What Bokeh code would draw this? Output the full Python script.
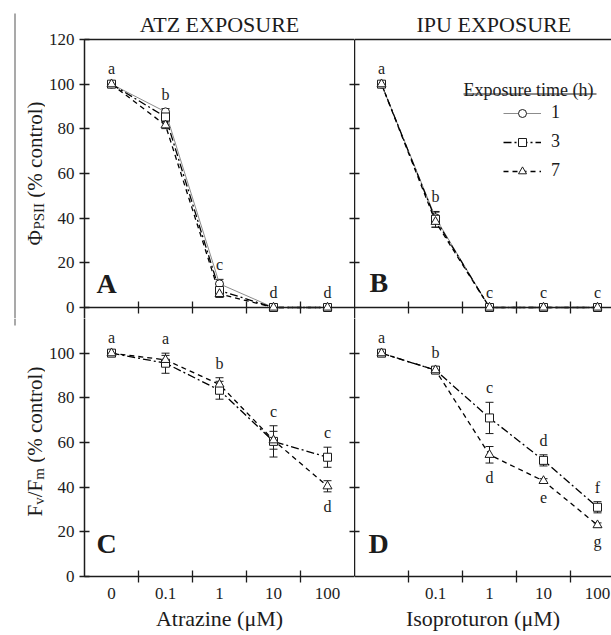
import numpy as np
from bokeh.plotting import figure
from bokeh.models import (ColumnDataSource, Whisker, TeeHead, LabelSet, Label, Legend,
                          LegendItem, FixedTicker, LinearAxis, Range1d, BoxAnnotation)
from bokeh.layouts import row, column
from bokeh.embed import file_html
from bokeh.resources import INLINE
from bokeh.core.properties import value

# ---------------- data ----------------
conc_labels_atz = ["0", "0.1", "1", "10", "100"]
conc_labels_ipu = ["", "0.1", "1", "10", "100"]
exposure_times = ["1", "3", "7"]

# Panel A: PhiPSII, atrazine
atz_phi_1h = [100, 87.6, 10.6, 0, 0]
atz_phi_3h = [100, 85.3, 7.6, 0, 0]
atz_phi_7h = [100, 81.6, 6.1, 0, 0]
atz_phi_1h_err = [0.5, 1.5, 2.0, 0.3, 0.3]
atz_phi_3h_err = [0.5, 2.0, 3.0, 0.3, 0.3]
atz_phi_7h_err = [0.5, 1.5, 1.5, 0.3, 0.3]

# Panel B: PhiPSII, isoproturon
ipu_phi_1h = [100, 40.2, 0, 0, 0]
ipu_phi_3h = [100, 39.5, 0, 0, 0]
ipu_phi_7h = [100, 38.4, 0, 0, 0]
ipu_phi_1h_err = [0.5, 2.5, 0.3, 0.3, 0.3]
ipu_phi_3h_err = [0.5, 3.5, 0.3, 0.3, 0.3]
ipu_phi_7h_err = [0.5, 2.5, 0.3, 0.3, 0.3]

# Panel C: Fv/Fm, atrazine
atz_fv_3h = [100, 95.5, 83.4, 60.5, 53.4]
atz_fv_7h = [100, 97.0, 86.0, 61.0, 40.4]
atz_fv_3h_err = [0.5, 4.5, 4.0, 7.0, 4.5]
atz_fv_7h_err = [0.5, 2.0, 3.0, 4.0, 2.5]

# Panel D: Fv/Fm, isoproturon
ipu_fv_3h = [100, 92.4, 71.0, 52.0, 31.0]
ipu_fv_7h = [100, 92.4, 54.5, 42.8, 23.0]
ipu_fv_3h_err = [0.5, 1.5, 7.0, 2.5, 2.5]
ipu_fv_7h_err = [0.5, 1.0, 3.7, 1.0, 1.0]

letters_a_top = ["a", "b", "c", "d", "d"]
letters_b_top = ["a", "b", "c", "c", "c"]
letters_c_top = ["a", "a", "b", "c", "c"]
letters_c_bottom = ["", "", "", "", "d"]
letters_d_top = ["a", "b", "c", "d", "f"]
letters_d_bottom = ["", "", "d", "e", "g"]

y_ticks_top = [0, 20, 40, 60, 80, 100, 120]
y_ticks_bottom = [0, 20, 40, 60, 80, 100]
y_ticks_inner = [20, 40, 60, 80, 100]

# ---------------- styles / layout ----------------
FONT = "Liberation Serif"
INK = "#1c1c1c"
STYLE = {
    "1": dict(color="#8c8c8c", dash="solid", width=1.0, marker="circle", size=8),
    "3": dict(color="black", dash="8 3 2 3", width=1.3, marker="square", size=8),
    "7": dict(color="black", dash="5 4", width=1.3, marker="triangle", size=9),
}
CAT_PX = 54
PX_UNIT = 268 / 120
LW = 45                    # width of the y-title column
FRAME_W_LEFT = 270
FRAME_W_RIGHT = 257
LEFT_BORDER = 38
TOP_BORDER = 39
FRAME_H_TOP = 279          # reaches a little below the zero line (page y 318)
FRAME_H_BOT = 258          # page y 318 .. 576
BOT_BORDER = 58
Y_START_TOP = 120 - FRAME_H_TOP / PX_UNIT
Y_END_BOT = FRAME_H_BOT / PX_UNIT
TOP_H = TOP_BORDER + FRAME_H_TOP      # page y of the row boundary (318)
BOT_H = FRAME_H_BOT + BOT_BORDER      # height of the lower row (316)
PAGE_H = TOP_H + BOT_H

# Times-like advance widths (em)
W = {"Φ": 0.76, "P": 0.556, "S": 0.556, "I": 0.333, " ": 0.25, "(": 0.333, "%": 0.833,
     "c": 0.444, "o": 0.5, "n": 0.5, "t": 0.278, "r": 0.333, "l": 0.278, ")": 0.333,
     "F": 0.556, "v": 0.5, "/": 0.278, "m": 0.778}


def tw(s, size):
    return sum(W.get(ch, 0.5) for ch in s) * size


def make_fig(frame_w, frame_h, y0, y1, left_border, top_border, bottom_border, title=None):
    p = figure(frame_width=frame_w, frame_height=frame_h,
               x_range=Range1d(-0.5, -0.5 + frame_w / CAT_PX), y_range=Range1d(y0, y1),
               x_axis_location=None, y_axis_location=None,
               toolbar_location=None, output_backend="svg",
               min_border_left=left_border, min_border_right=0,
               min_border_top=top_border, min_border_bottom=bottom_border,
               title=title)
    p.outline_line_color = None
    p.grid.visible = False
    p.background_fill_color = "white"
    p.border_fill_color = "white"
    if title:
        p.title.text_font = FONT
        p.title.text_font_size = "22px"
        p.title.text_font_style = "normal"
        p.title.text_color = INK
        p.title.standoff = 6
    return p


def label_fig(frame_h):
    p = figure(frame_width=LW, frame_height=frame_h, x_range=Range1d(0, 1), y_range=Range1d(0, 1),
               x_axis_location=None, y_axis_location=None, toolbar_location=None,
               output_backend="svg", min_border=0)
    p.outline_line_color = None
    p.grid.visible = False
    p.background_fill_color = "white"
    p.border_fill_color = "white"
    return p


def add_axis(p, side, ticks=(), minor=(), major_in=0, major_out=0, minor_in=0, minor_out=0,
             line=True, labels=False, overrides=None, axis_label=None, fixed=None):
    ax = LinearAxis(ticker=FixedTicker(ticks=list(ticks), minor_ticks=list(minor)))
    ax.axis_line_color = INK if line else None
    ax.axis_line_width = 1.5
    ax.major_tick_in = major_in
    ax.major_tick_out = major_out
    ax.minor_tick_in = minor_in
    ax.minor_tick_out = minor_out
    ax.major_tick_line_color = INK
    ax.minor_tick_line_color = INK
    ax.major_tick_line_width = 1.3
    ax.minor_tick_line_width = 1.3
    ax.major_label_text_font = FONT
    ax.major_label_text_font_size = "17px"
    ax.major_label_text_color = INK
    ax.major_label_standoff = 5 if labels else 0
    if overrides is not None:
        ax.major_label_overrides = overrides
    if fixed is not None:
        ax.fixed_location = fixed
    if axis_label:
        ax.axis_label = axis_label
        ax.axis_label_text_font = FONT
        ax.axis_label_text_font_size = "22px"
        ax.axis_label_text_font_style = "normal"
        ax.axis_label_text_color = INK
        ax.axis_label_standoff = 4
    p.add_layout(ax, side)
    return ax


def draw_series(p, vals, errs, key):
    st = STYLE[key]
    x = list(range(len(vals)))
    src = ColumnDataSource(dict(x=x, y=vals,
                                upper=[v + e for v, e in zip(vals, errs)],
                                lower=[v - e for v, e in zip(vals, errs)]))
    lr = p.line("x", "y", source=src, line_color=st["color"], line_width=st["width"],
                line_dash=st["dash"])
    p.add_layout(Whisker(source=src, base="x", upper="upper", lower="lower",
                         line_color=INK, line_width=1,
                         upper_head=TeeHead(size=8, line_color=INK, line_width=1),
                         lower_head=TeeHead(size=8, line_color=INK, line_width=1)))
    sr = p.scatter("x", "y", source=src, marker=st["marker"], size=st["size"],
                   fill_color="white", line_color=INK, line_width=1, level="overlay")
    return lr, sr


def draw_letters(p, series, top, bottom=None):
    n = len(top)
    x = list(range(n))
    hi = [max(v[i] + e[i] for v, e in series) for i in x]
    lo = [min(v[i] - e[i] for v, e in series) for i in x]
    common = dict(text_align="center", text_baseline="alphabetic", text_font=value(FONT),
                  text_font_size=value("16px"), text_color=INK)
    p.add_layout(LabelSet(x="x", y="y", text="t", y_offset=9,
                          source=ColumnDataSource(dict(x=x, y=hi, t=top)), **common))
    if bottom:
        p.add_layout(LabelSet(x="x", y="y", text="t", y_offset=-20,
                              source=ColumnDataSource(dict(x=x, y=lo, t=bottom)), **common))


def panel_letter(p, letter, x, y):
    p.add_layout(Label(x=x, y=y, x_units="screen", y_units="screen", text=letter,
                       text_font=FONT, text_font_size="28px", text_font_style="bold",
                       text_color=INK))


def rotated_label(p, pieces, x_base, y_center):
    total = sum(tw(t, s) + gap for t, s, sh, gap in pieces)
    y = y_center - total / 2
    for t, s, sh, gap in pieces:
        y += gap
        p.add_layout(Label(x=x_base + sh, y=y, x_units="screen", y_units="screen", text=t,
                           angle=np.pi / 2, text_font=FONT, text_font_size=f"{s}px",
                           text_color=INK, text_align="left", text_baseline="alphabetic"))
        y += tw(t, s)


def screen_box(p, left, right, bottom, top, color):
    p.add_layout(BoxAnnotation(left=left, right=right, bottom=bottom, top=top,
                               left_units="screen", right_units="screen",
                               bottom_units="screen", top_units="screen",
                               fill_color=color, fill_alpha=1, line_color=None))


inner = [0.5, 1.5, 2.5, 3.5]

# ---------------- y titles column (own column, full-height frames) ----------------
LA = label_fig(TOP_H)
rotated_label(LA, [("Φ", 21, 0, 0), ("PSII", 15, 4, 0), ("(% control)", 21, 0, 0.25 * 21)],
              34, TOP_H - 173)
screen_box(LA, 14, 15, 0, TOP_H - 13, "#555555")

LC = label_fig(BOT_H)
rotated_label(LC, [("F", 21, 0, 0), ("v", 15, 4, 0), ("/F", 21, 0, 0), ("m", 15, 4, 0),
                   ("(% control)", 21, 0, 0.25 * 21)],
              34, PAGE_H - 441)
screen_box(LC, 14, 15, PAGE_H - 325, BOT_H, "#555555")

# ---------------- Panel A ----------------
pA = make_fig(FRAME_W_LEFT, FRAME_H_TOP, Y_START_TOP, 120, LEFT_BORDER, TOP_BORDER, 0,
              title="ATZ EXPOSURE")
pA.title.align = "center"
add_axis(pA, "left", ticks=y_ticks_top, major_in=5, major_out=5, labels=True)
add_axis(pA, "below", minor=inner, minor_in=6, minor_out=6, fixed=0)
add_axis(pA, "above")
add_axis(pA, "right", minor=y_ticks_inner, minor_in=5, line=False)
A_series = [(atz_phi_1h, atz_phi_1h_err), (atz_phi_3h, atz_phi_3h_err), (atz_phi_7h, atz_phi_7h_err)]
for key, (v, e) in zip(exposure_times, A_series):
    draw_series(pA, v, e, key)
draw_letters(pA, A_series, letters_a_top)
panel_letter(pA, "A", 12, 20)

# ---------------- Panel B ----------------
pB = make_fig(FRAME_W_RIGHT, FRAME_H_TOP, Y_START_TOP, 120, 0, TOP_BORDER, 0,
              title="IPU EXPOSURE")
pB.title.align = "left"
pB.title.offset = 62
add_axis(pB, "left", minor=y_ticks_inner, minor_in=5)
add_axis(pB, "below", minor=inner, minor_in=6, minor_out=6, fixed=0)
add_axis(pB, "above")
B_series = [(ipu_phi_1h, ipu_phi_1h_err), (ipu_phi_3h, ipu_phi_3h_err), (ipu_phi_7h, ipu_phi_7h_err)]
rends = {}
for key, (v, e) in zip(exposure_times, B_series):
    rends[key] = draw_series(pB, v, e, key)
draw_letters(pB, B_series, letters_b_top)
panel_letter(pB, "B", 15, 21)
legend = Legend(items=[LegendItem(label=k, renderers=list(rends[k])) for k in exposure_times],
                location=(149, TOP_H - 181), orientation="vertical", glyph_width=38,
                glyph_height=20, label_height=20, spacing=8, padding=0, margin=0,
                label_standoff=10, label_text_font=FONT, label_text_font_size="18px",
                label_text_color=INK, background_fill_alpha=0, border_line_color=None)
pB.add_layout(legend)
pB.add_layout(Label(x=109, y=TOP_H - 89, x_units="screen", y_units="screen",
                    text="Exposure time (h)", text_font=FONT, text_font_size="18px",
                    text_color=INK, text_baseline="alphabetic"))
screen_box(pB, 109, 242, TOP_H - 94, TOP_H - 93, INK)

# ---------------- Panel C ----------------
pC = make_fig(FRAME_W_LEFT, FRAME_H_BOT, 0, Y_END_BOT, LEFT_BORDER, 0, BOT_BORDER)
add_axis(pC, "left", ticks=y_ticks_bottom, major_in=5, major_out=5, labels=True)
add_axis(pC, "below", ticks=[i for i, s in enumerate(conc_labels_atz) if s], minor=inner,
         minor_in=6, minor_out=6, labels=True,
         overrides={i: s for i, s in enumerate(conc_labels_atz) if s},
         axis_label="Atrazine (μM)")
add_axis(pC, "right", minor=y_ticks_inner, minor_in=5, line=False)
C_series = [(atz_fv_3h, atz_fv_3h_err), (atz_fv_7h, atz_fv_7h_err)]
for key, (v, e) in zip(exposure_times[1:], C_series):
    draw_series(pC, v, e, key)
draw_letters(pC, C_series, letters_c_top, letters_c_bottom)
panel_letter(pC, "C", 12, 18)

# ---------------- Panel D ----------------
pD = make_fig(FRAME_W_RIGHT, FRAME_H_BOT, 0, Y_END_BOT, 0, 0, BOT_BORDER)
add_axis(pD, "left", minor=y_ticks_inner, minor_in=5)
add_axis(pD, "below", ticks=[i for i, s in enumerate(conc_labels_ipu) if s], minor=inner,
         minor_in=6, minor_out=6, labels=True,
         overrides={i: s for i, s in enumerate(conc_labels_ipu) if s},
         axis_label="Isoproturon (μM)")
D_series = [(ipu_fv_3h, ipu_fv_3h_err), (ipu_fv_7h, ipu_fv_7h_err)]
for key, (v, e) in zip(exposure_times[1:], D_series):
    draw_series(pD, v, e, key)
draw_letters(pD, D_series, letters_d_top, letters_d_bottom)
panel_letter(pD, "D", 14, 18)

layout = row(column(LA, LC), column(row(pA, pB), row(pC, pD)))

open("out.html", "w").write(file_html(layout, INLINE))
